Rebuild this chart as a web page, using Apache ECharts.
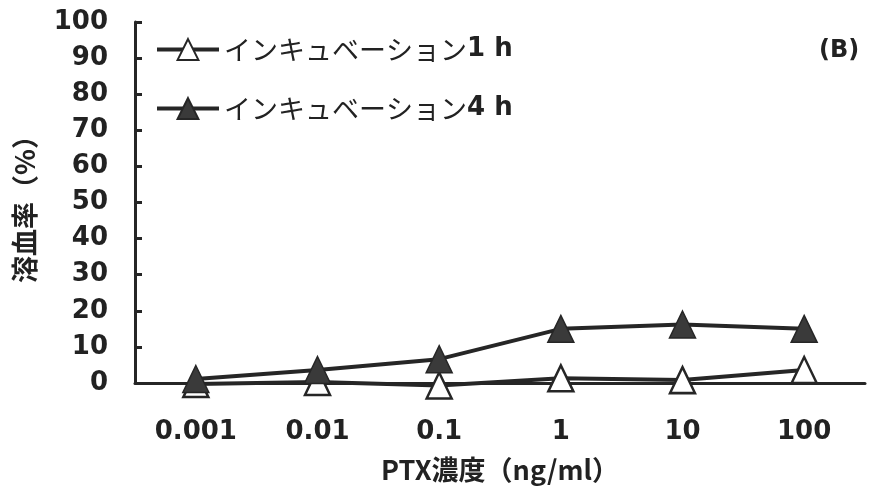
<!DOCTYPE html>
<html>
<head>
<meta charset="utf-8">
<script src="https://cdn.jsdelivr.net/npm/echarts@6/dist/echarts.min.js"></script>
<style>html,body{margin:0;padding:0;background:#fff}#c{width:870px;height:501px}</style>
</head>
<body>
<div id="c"></div>
<script>
const categories = ['0.001', '0.01', '0.1', '1', '10', '100'];
const seriesNames = ['インキュベーション1 h', 'インキュベーション4 h'];
const values1h = [-0.3, 0.3, -0.7, 1.3, 0.8, 3.6];
const values4h = [1.1, 3.6, 6.6, 15.0, 16.2, 15.0];
const yTicks = [0, 10, 20, 30, 40, 50, 60, 70, 80, 90, 100];
const panelLabel = '(B)';
const xName = 'PTX濃度（ng/ml）';
const yName = '溶血率（%）';

const NUM = '"DejaVu Sans", sans-serif';
const JP = '"Noto Sans CJK JP", sans-serif';
const ink = '#262626';

const chart = echarts.init(document.getElementById('c'), null, {renderer: 'canvas'});
chart.setOption({
  animation: false,
  backgroundColor: '#fff',
  grid: {left: 135, right: 5, top: 22, bottom: 118, containLabel: false},
  xAxis: {
    type: 'category',
    data: categories,
    boundaryGap: true,
    axisLine: {lineStyle: {color: ink, width: 3}},
    axisTick: {inside: true, length: 8, lineStyle: {color: ink, width: 3}},
    axisLabel: {margin: 36, fontFamily: NUM, fontWeight: 'bold', fontSize: 26, color: '#222'},
    splitLine: {show: false},
    name: xName,
    nameLocation: 'middle',
    nameGap: 73,
    nameTextStyle: {fontFamily: JP, fontWeight: 'bold', fontSize: 27, color: '#222'}
  },
  yAxis: {
    type: 'value',
    min: yTicks[0],
    max: yTicks[yTicks.length - 1],
    interval: 10,
    axisLine: {show: true, lineStyle: {color: ink, width: 3}},
    axisTick: {show: true, inside: true, length: 7, lineStyle: {color: ink, width: 3}},
    axisLabel: {margin: 27, fontFamily: NUM, fontWeight: 'bold', fontSize: 26, color: '#222'},
    splitLine: {show: false},
    name: yName,
    nameLocation: 'middle',
    nameGap: 97,
    nameTextStyle: {fontFamily: JP, fontWeight: 'bold', fontSize: 27, color: '#222'}
  },
  legend: {
    orient: 'vertical',
    left: 150,
    top: 31,
    itemWidth: 62,
    itemHeight: 26,
    itemGap: 32,
    lineStyle: {width: 4, color: ink},
    formatter: function (name) {
      return '{a|' + name.slice(0, name.length - 3) + '}{b|' + name.slice(name.length - 3) + '}';
    },
    textStyle: {
      rich: {
        a: {fontFamily: JP, fontSize: 27, color: '#222', fontWeight: 'normal'},
        b: {fontFamily: NUM, fontSize: 26, color: '#222', fontWeight: 'bold'}
      }
    }
  },
  graphic: [{
    type: 'text',
    left: 819,
    top: 39,
    style: {text: panelLabel, fontSize: 24, fontWeight: 'bold', fontFamily: 'DejaVu Sans', fill: '#222'}
  }],
  series: [
    {
      name: seriesNames[0],
      type: 'line',
      data: values1h,
      clip: false,
      symbol: 'triangle',
      symbolSize: [25, 26],
      lineStyle: {color: ink, width: 4},
      itemStyle: {color: '#fff', borderColor: ink, borderWidth: 2.5},
      z: 2
    },
    {
      name: seriesNames[1],
      type: 'line',
      data: values4h,
      clip: false,
      symbol: 'triangle',
      symbolSize: [26, 27],
      lineStyle: {color: ink, width: 4},
      itemStyle: {color: '#3a3a3a', borderColor: ink, borderWidth: 1.5},
      z: 3
    }
  ]
});
</script>
</body>
</html>
